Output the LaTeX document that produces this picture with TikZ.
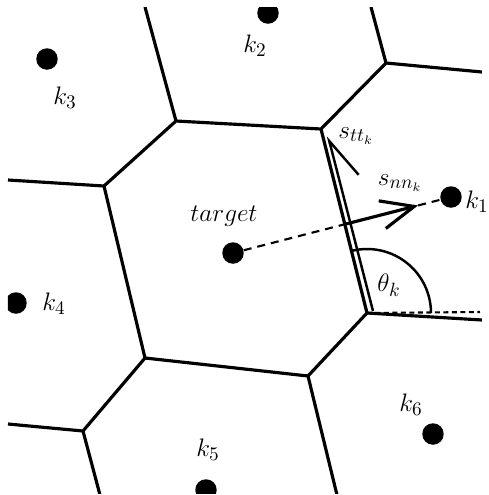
\documentclass[tikz,border=0pt]{standalone}
\usepackage{amsmath,amssymb}
\usepackage{tikz}
\usetikzlibrary{arrows.meta,calc}

\begin{document}
\begin{tikzpicture}[x=0.02cm, y=-0.02cm, font=\fontsize{15}{17}\selectfont]
  \tikzstyle{site}=[circle, fill=black, inner sep=0pt, minimum size=0.43cm]
  \tikzstyle{edge}=[line width=1.8pt]
  \tikzstyle{lbl}=[inner sep=0pt]
  \tikzstyle{dashline}=[line width=1.2pt, dash pattern=on 0.16cm off 0.12cm]
  \clip (0,0) rectangle (489,495);
  % cell vertices
  \coordinate (va) at (176,121);
  \coordinate (vb) at (321,129);
  \coordinate (vc) at (367,313);
  \coordinate (vd) at (308,376);
  \coordinate (ve) at (145,358);
  \coordinate (vf) at (104,186);
  \coordinate (vg) at (386,63);
  \coordinate (vh) at (83,431);
  \begin{scope}
    \clip (8,7) rectangle (482,493);
    \draw[edge] (va) -- (vb) -- (vc) -- (vd) -- (ve) -- (vf) -- cycle;
    \draw[edge] (va) -- (145,7);
    \draw[edge] (vf) -- (8,180);
    \draw[edge] (ve) -- (vh) -- (8,424);
    \draw[edge] (vh) -- (100,495);
    \draw[edge] (vd) -- (337,495);
    \draw[edge] (vc) -- (482,320);
    \draw[edge] (vb) -- (vg) -- (371,7);
    \draw[edge] (vg) -- (482,72);
    % sites
    \node[site] (tgt) at (233,253) {};
    \node[site] (k1) at (451,197) {};
    \node[site] (k2) at (268,13) {};
    \node[site] (k3) at (47,59) {};
    \node[site] (k4) at (16,303) {};
    \node[site] (k5) at (206,490) {};
    \node[site] (k6) at (433,434) {};
  \end{scope}
  % normal and tangential components
  \path (tgt.center) -- (k1.center) coordinate[pos=0.514] (nn0) coordinate[pos=0.849] (nn1);
  \draw[dashline] (tgt) -- (nn0);
  \draw[dashline] (nn1) -- (k1);
  \draw[line width=1.8pt, -{Straight Barb[length=0.66cm, width=0.57cm]}] (nn0) -- (nn1);
  \coordinate (tt0) at (373,311);
  \coordinate (tt1) at (328,136);
  \draw[line width=1.4pt, -{Straight Barb[right, length=0.8cm, width=0.8cm]}] (tt0) -- (tt1);
  \coordinate (hz) at (480,312);
  \draw[line width=1.2pt, dash pattern=on 0.1cm off 0.07cm] (vc) -- (hz);
  \draw[line width=1.4pt] ($(vc)+(256:64)$) arc[start angle=256, end angle=360, radius=64];
  % labels
  \node[lbl] (ltgt) at (224,216) {$target$};
  \node[lbl, anchor=west] (lk1) at (465,202) {$k_1$};
  \node[lbl] (lk2) at (255,46) {$k_2$};
  \node[lbl] (lk3) at (65,98) {$k_3$};
  \node[lbl] (lk4) at (54,304) {$k_4$};
  \node[lbl] (lk5) at (208,450) {$k_5$};
  \node[lbl] (lk6) at (411,405) {$k_6$};
  \node[lbl] (ltt) at (356,136) {$s_{tt_k}$};
  \node[lbl] (lnn) at (400,183) {$s_{nn_k}$};
  \node[lbl] (lth) at (389,285) {$\theta_k$};
\end{tikzpicture}
\end{document}
